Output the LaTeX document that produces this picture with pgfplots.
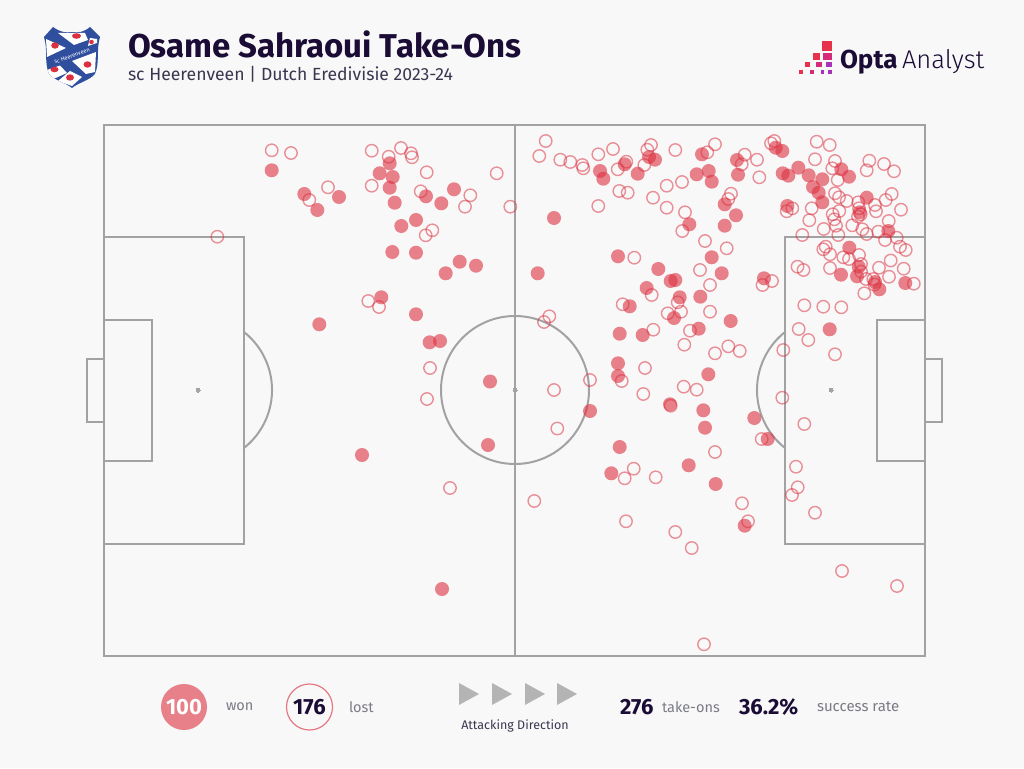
\documentclass[border=0pt]{standalone}
\usepackage{fontspec}
\setmainfont{Fira Sans}
\newfontfamily\lightfont{Fira Sans Light}
\usepackage{pgfplots}
\usepackage{pgfplotstable}
\pgfplotsset{compat=1.18}

\definecolor{pagebg}{HTML}{F8F8F8}
\definecolor{pitch}{HTML}{A2A2A2}
\definecolor{wonred}{HTML}{DC3040}
\definecolor{lostred}{HTML}{E57882}
\definecolor{navy}{HTML}{1B0C36}
\definecolor{subtxt}{HTML}{3B3650}
\definecolor{greytxt}{HTML}{7B7B85}
\definecolor{arrowgrey}{HTML}{B4B4B4}
\definecolor{shield}{HTML}{2F4E9E}

% positions in image pixels (x right, y down)
\pgfplotstableread{
x y
271.7 170.3
304.3 194
317.3 210
339 197
389.7 163.3
379.7 173.3
392.7 177
389.7 187.7
394.7 202.7
426 196.3
441.3 203.3
454 189.3
401.3 226
416 220
392.3 252
416 252.7
445.7 273.3
459.7 261.7
476 265.7
381.3 297.3
416 314.3
319.3 324.3
429.7 342.3
440 341
490 381.5
488 445
362 455
442 589
554 218
537.7 273.3
600 171
603.3 178.7
624.7 164.3
637.7 173.7
649 157
655 159.7
702 154.3
696.7 174.3
708.7 171
711.7 181.7
724.7 204.3
724.7 225.7
689.3 224.3
618 256.3
658.3 269
711.7 257.3
721.7 273.3
670.7 281
675.3 280
646.7 288
737 160
738 174.7
736 215.3
775.7 147.7
782.3 151
782.7 173.3
788.3 175.7
798.3 167.7
808.7 175.3
822.3 179.3
813 187
818.7 192.7
822.3 202.3
841.3 169.3
849 176.7
866.7 197.7
787.3 206
859.7 212.3
888.3 231
849.3 247.7
858.7 266.7
841 274.7
857 276.3
764 278.3
875 282
879.3 289.3
905.3 283
829.7 329.3
679.7 297.3
700.3 296.7
629.7 306.3
674 318
730.7 321
698.7 328.7
619.7 333.7
642.7 335
618 363.3
618 376
708.3 374.3
670 404.3
703.3 410.3
705 427.7
590 411
754.3 418
619.7 447
611.3 473.3
688.7 465.3
715.7 484
744.7 525.7
767.7 439
}\wondata

\pgfplotstableread{
x y
271.7 150.3
291 153
328 187.3
309.3 200
371.7 150.7
388.7 156.7
401 148
411 153.3
412 157.3
426.7 172.3
496.7 173.3
371.7 185.7
420.7 191.3
470.3 195.3
465 206.7
510.3 206.7
432.3 230.3
425.7 235.3
217.3 236.7
368.3 301
379 307
430 368
427 399
450 488
545.7 141
539.3 156
560.3 159.7
570.3 162
582.3 165
583.3 168.3
598.3 154.3
613 149
617.7 169.3
626.3 161.7
644.3 165
647.3 149.7
651 145
675.3 150
619.3 191
627.7 192.7
653 197.7
666.7 185.7
682 182
666.7 207.7
685 212.3
682.3 231
598.3 206
707.3 152.3
715 144.3
634.3 257.7
705 241
726.7 248.3
700 270
710 285
816.7 141.7
829.7 145
771 143.3
774.3 141
744.7 154.7
741.7 164.3
757 159.7
759.3 177.3
815 159.3
835 161
832.3 168.3
837.7 180
869.3 160.7
866.7 170.3
884 164
894 171.3
731 193.7
728.3 199
835 193.3
839 197.3
846.7 201
858.3 202.3
859 208.3
875 205
876 211.3
885.7 200
891.7 194
901 209.7
811.7 208.3
792.3 208.3
786.7 211.3
809.3 220.3
839.3 211
832.7 214.3
834.3 219.3
836 225.7
823.7 229
838.3 235
852.3 225.3
802.3 235
862.3 229.3
866.7 234
860.7 214.3
858 216.5
878.3 231.7
888.7 221
885 240
896.7 237.7
900 246.7
905.7 250
823.3 249.3
825.7 246.7
830 254.3
843.3 257.3
849 259
859 255
861 264
830 268
797.5 266.7
803.5 270
879 267.7
890.7 260.5
903.7 268.7
889 276.7
861 271.5
873.3 279
866 279
874.5 284.5
913.8 283.7
772 281
762.5 285
864.3 293.3
804.3 305.3
823.3 306.7
841.3 307.3
798.7 329
808.3 340
783.3 350
835 354.3
782.3 397.7
651.7 295
677.7 302.3
622.7 304.3
710 311.7
681 311.7
667.7 313.3
549.3 316.3
544 322
653.3 329.7
690 330.7
684.3 344.7
728.3 346.3
715 353.3
739.7 351
645 368
621.7 381
590 380
554 390
683.7 386.7
696.7 389.7
643.3 394
670.7 405.7
557.3 428.5
761.7 439
804.3 424
715 452
633.7 468.7
624.7 478.3
655.7 477.3
796 466.7
797.7 487.3
792 495
815 512.7
534.3 501
742 503.3
748 521.3
626 521.3
675.3 532
691.7 548
704 644.3
842 571
897 586
}\lostdata

\begin{document}
\begin{tikzpicture}
\begin{axis}[
    at={(0,0)}, anchor=south west,
    scale only axis, width=1024pt, height=768pt,
    xmin=0, xmax=1024, ymin=0, ymax=768,
    y dir=reverse,
    hide axis, clip=false,
]
\fill[pagebg] (axis cs:0,0) rectangle (axis cs:1024,768);

% pitch
\begin{scope}[draw=pitch, line width=2pt]
\draw (axis cs:104,125) rectangle (axis cs:925,656);
\draw (axis cs:515,125) -- (axis cs:515,656);
\draw (axis cs:104,237) rectangle (axis cs:244,544);
\draw (axis cs:104,320) rectangle (axis cs:152,461);
\draw (axis cs:104,359) -- (axis cs:87,359) -- (axis cs:87,422) -- (axis cs:104,422);
\draw (axis cs:925,237) -- (axis cs:785,237) -- (axis cs:785,544) -- (axis cs:925,544);
\draw (axis cs:925,320) -- (axis cs:877,320) -- (axis cs:877,461) -- (axis cs:925,461);
\draw (axis cs:925,359) -- (axis cs:942,359) -- (axis cs:942,422) -- (axis cs:925,422);
\draw (axis cs:244,332) arc[start angle=51.6, end angle=-51.6, radius=74pt];
\draw (axis cs:785,332) arc[start angle=128.4, end angle=231.6, radius=74pt];
\draw (axis cs:589,390) arc[start angle=0, end angle=360, radius=74pt];
\end{scope}
\addplot[only marks, mark=*, mark size=2pt, mark options={fill=pitch, draw=pitch, line width=0pt}]
    coordinates {(198,390)(515,390)(831,390)};

% take-ons
\addplot[only marks, mark=*, mark size=7pt,
    mark options={fill=wonred, draw opacity=0, line width=0pt, fill opacity=0.6}] table {\wondata};
\addplot[only marks, mark=o, mark size=6.2pt,
    mark options={draw=wonred, draw opacity=0.52, line width=1.4pt}] table {\lostdata};

% legend circles
\addplot[only marks, mark=*, mark size=23pt,
    mark options={fill=wonred, draw opacity=0, line width=0pt, fill opacity=0.6}] coordinates {(184,707)};
\addplot[only marks, mark=o, mark size=23pt,
    mark options={draw=lostred, line width=1.2pt}] coordinates {(309.5,707)};
\end{axis}

\begin{scope}[x=1pt, y=-1pt, yshift=768pt, every node/.style={inner sep=0pt, outer sep=0pt}]
% header
\node[anchor=base west, text=navy, font=\fontsize{33}{33}\selectfont\bfseries] at (128,58) {Osame Sahraoui Take-Ons};
\node[anchor=base west, text=subtxt, font=\fontsize{17.6}{17.6}\selectfont] at (128,81) {sc Heerenveen | Dutch Eredivisie 2023-24};

% club crest
\fill[shield] (44,37) -- (53,27) .. controls (60,32) and (65,33) .. (72,32) .. controls (79,33) and (84,32) .. (90,27)
  -- (100,37) .. controls (96,50) and (100,62) .. (95,74) .. controls (90,80) and (78,83) .. (72,88)
  .. controls (66,83) and (54,80) .. (49,74) .. controls (44,62) and (48,50) .. (44,37) -- cycle;
\begin{scope}
\clip (44,37) -- (53,27) .. controls (60,32) and (65,33) .. (72,32) .. controls (79,33) and (84,32) .. (90,27)
  -- (100,37) .. controls (96,50) and (100,62) .. (95,74) .. controls (90,80) and (78,83) .. (72,88)
  .. controls (66,83) and (54,80) .. (49,74) .. controls (44,62) and (48,50) .. (44,37) -- cycle;
\fill[white] (46,39) -- (66,48) -- (47,57) -- cycle;
\fill[white] (58,33) -- (85,33) -- (88,40) -- (74,45) -- cycle;
\fill[white] (90,38) -- (97,39) -- (97,43) -- (88,46) -- cycle;
\fill[white] (47,70) -- (60,65.5) -- (67,73) -- (51,80) -- cycle;
\fill[white] (58,81) -- (70,71) -- (82,77) -- (72,86) -- cycle;
\fill[white] (72,61) -- (96,52) -- (95,72) -- (86,74) -- cycle;
\end{scope}
\fill[wonred] (55,45.5) ellipse (3.8pt and 3.2pt);
\fill[wonred] (76.5,36) ellipse (4.5pt and 2.8pt);
\fill[wonred] (91.5,42) ellipse (2.3pt and 2.2pt);
\fill[wonred] (54.5,69.5) ellipse (4pt and 2.8pt);
\fill[wonred] (70,77.5) ellipse (4pt and 3.2pt);
\fill[wonred] (87.5,64.5) ellipse (4pt and 3.2pt);
\node[text=white, rotate=20, font=\fontsize{5.6}{5.6}\selectfont] at (72,55.8) {sc Heerenveen};

% Opta logo
\definecolor{o1}{HTML}{E8324B}
\definecolor{o2}{HTML}{D42C78}
\definecolor{o3}{HTML}{A833B8}
\fill[o1] (822.3,40.7) rectangle (832.3,50.7);
\fill[o1] (812.7,52.7) rectangle (820,60);
\fill[o2] (823,52.7) rectangle (832,60);
\fill[o1] (805,62) rectangle (810,67);
\fill[o2] (816,62) rectangle (822,67);
\fill[o3] (826,62) rectangle (832,67);
\fill[o1] (799,70) rectangle (803,74);
\fill[o2] (810,70) rectangle (814,74);
\fill[o3] (821,70) rectangle (824,74);
\fill[o3] (828,70) rectangle (832,74);
\node[anchor=base west, text=navy, font=\fontsize{26}{26}\selectfont\bfseries] at (840,69) {Opta};
\node[anchor=base west, text=navy, font=\fontsize{25.6}{25.6}\lightfont] at (902,69) {Analyst};

% legend text
\node[text=white, font=\fontsize{22}{22}\selectfont\bfseries] at (184,707) {100};
\node[anchor=west, text=greytxt, font=\fontsize{14.5}{14.5}\selectfont] at (226,707) {won};
\node[text=navy, font=\fontsize{22}{22}\selectfont\bfseries] at (309.5,707) {176};
\node[anchor=west, text=greytxt, font=\fontsize{14.5}{14.5}\selectfont] at (349,707) {lost};

% attacking direction
\foreach \ax in {459,492,525,557}
  \fill[arrowgrey] (\ax,683) -- (\ax+20,694) -- (\ax,705) -- cycle;
\node[text=subtxt, font=\fontsize{12.5}{12.5}\selectfont] at (515,726) {Attacking Direction};

% totals
\node[anchor=west, text=navy, font=\fontsize{22}{22}\selectfont\bfseries] at (620,707) {276};
\node[anchor=west, text=greytxt, font=\fontsize{14.5}{14.5}\selectfont] at (662,707) {take-ons};
\node[anchor=west, text=navy, font=\fontsize{22}{22}\selectfont\bfseries] at (739,707) {36.2\%};
\node[anchor=west, text=greytxt, font=\fontsize{15}{15}\selectfont] at (817,707) {success rate};
\end{scope}
\end{tikzpicture}
\end{document}
